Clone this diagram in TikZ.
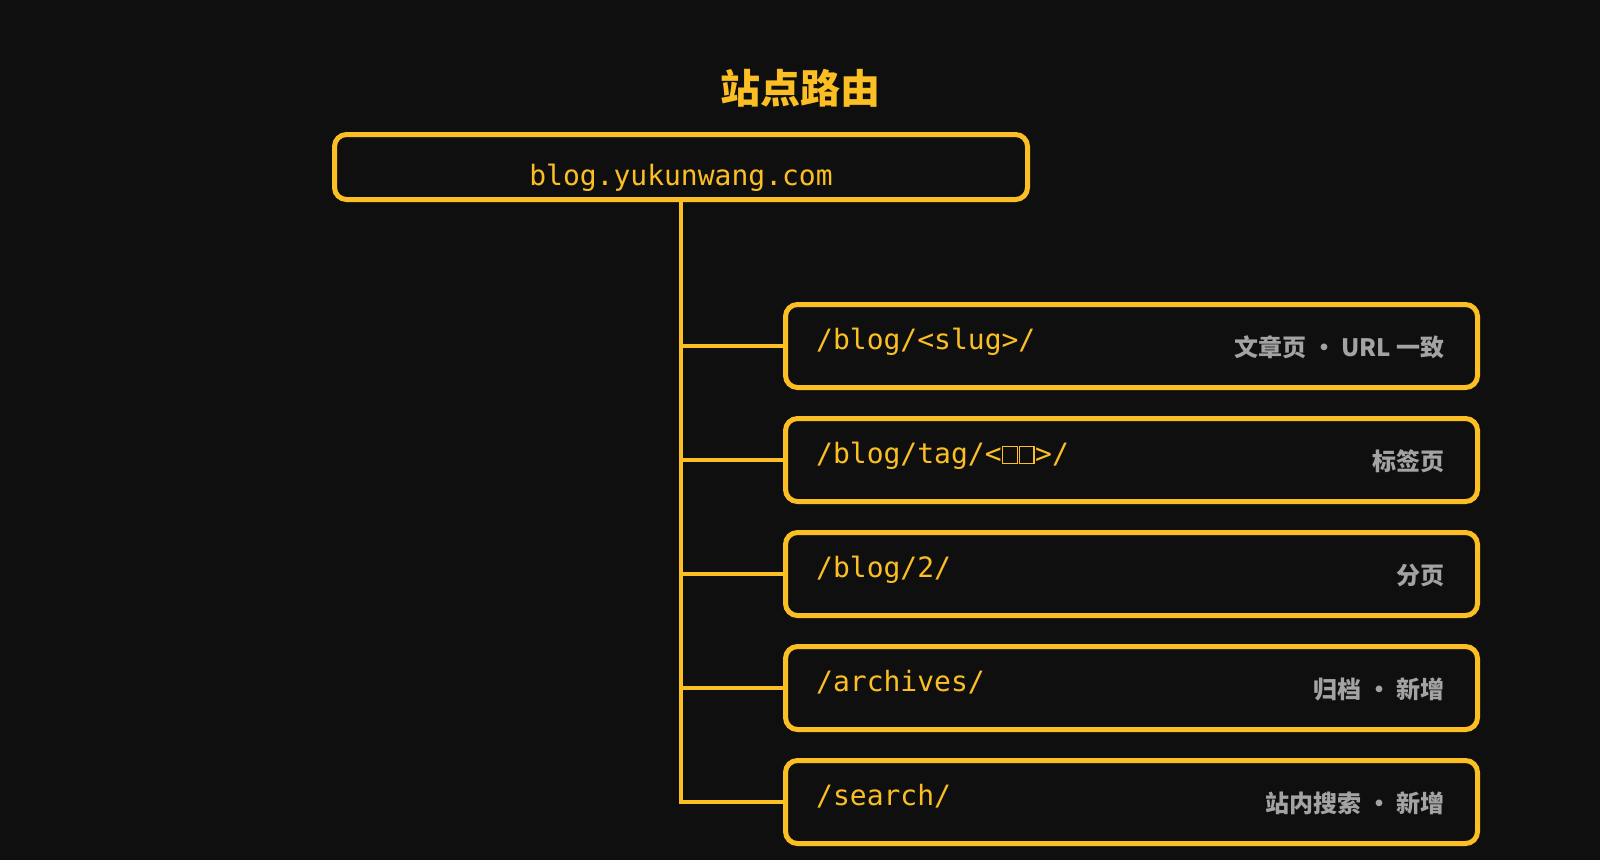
\documentclass[tikz,border=0pt]{standalone}
\usepackage{fontspec}
\setmonofont{DejaVu Sans Mono}
\newfontfamily\cjk{Noto Sans CJK SC}
\usetikzlibrary{positioning}
\definecolor{bg}{HTML}{0F0F0F}
\definecolor{amber}{HTML}{FBBF24}
\definecolor{notegray}{HTML}{A3A3A3}
% empty glyph box, as the mono font prints a missing character
\newcommand\missingglyph{\makebox[0.6em]{\fboxsep0pt\fboxrule1.3pt\fbox{\rule{0pt}{0.56em}\hspace{0.47em}}}}
\tikzset{
  box/.style={draw=amber, line width=5pt, rounded corners=12pt, inner sep=0pt},
  routebox/.style={box, minimum width=692pt, minimum height=83pt},
  route/.style={text=amber, font=\ttfamily\fontsize{28}{28}\selectfont, anchor=base west, inner sep=0pt},
  note/.style={text=notegray, font=\cjk\bfseries\fontsize{24}{24}\selectfont, anchor=east, inner sep=0pt},
  wire/.style={draw=amber, line width=4pt}
}
\begin{document}
\begin{tikzpicture}[x=1pt,y=-1pt]
  \fill[bg] (0,0) rectangle (1600,860);
  \useasboundingbox (0,0) rectangle (1600,860);
  % title and site root
  \node[text=amber, font=\cjk\bfseries\fontsize{40}{40}\selectfont] (title) at (800,88) {站点路由};
  \node[box, minimum width=693pt, minimum height=65pt] (root) at (681,167) {};
  \node[text=amber, font=\ttfamily\fontsize{28}{28}\selectfont, anchor=base, inner sep=0pt]
    (host) at ([yshift=-18pt]root.center) {blog.yukunwang.com};
  % routes
  \foreach \i/\route/\desc in {%
    1/{/blog/<slug>/}/{文章页 · URL 一致},
    2/{/blog/tag/<\missingglyph\missingglyph>/}/{标签页},
    3/{/blog/2/}/{分页},
    4/{/archives/}/{归档 · 新增},
    5/{/search/}/{站内搜索 · 新增}}{%
    \node[routebox] (r\i) at (1131.5,{232+114*\i}) {};
    \node[route] (p\i) at ([xshift=33pt,yshift=-3pt]r\i.west) {\route};
    \node[note] (d\i) at ([xshift=-35pt,yshift=-1pt]r\i.east) {\desc};
    \draw[wire] (root.south) |- (r\i.west);
  }
\end{tikzpicture}
\end{document}
